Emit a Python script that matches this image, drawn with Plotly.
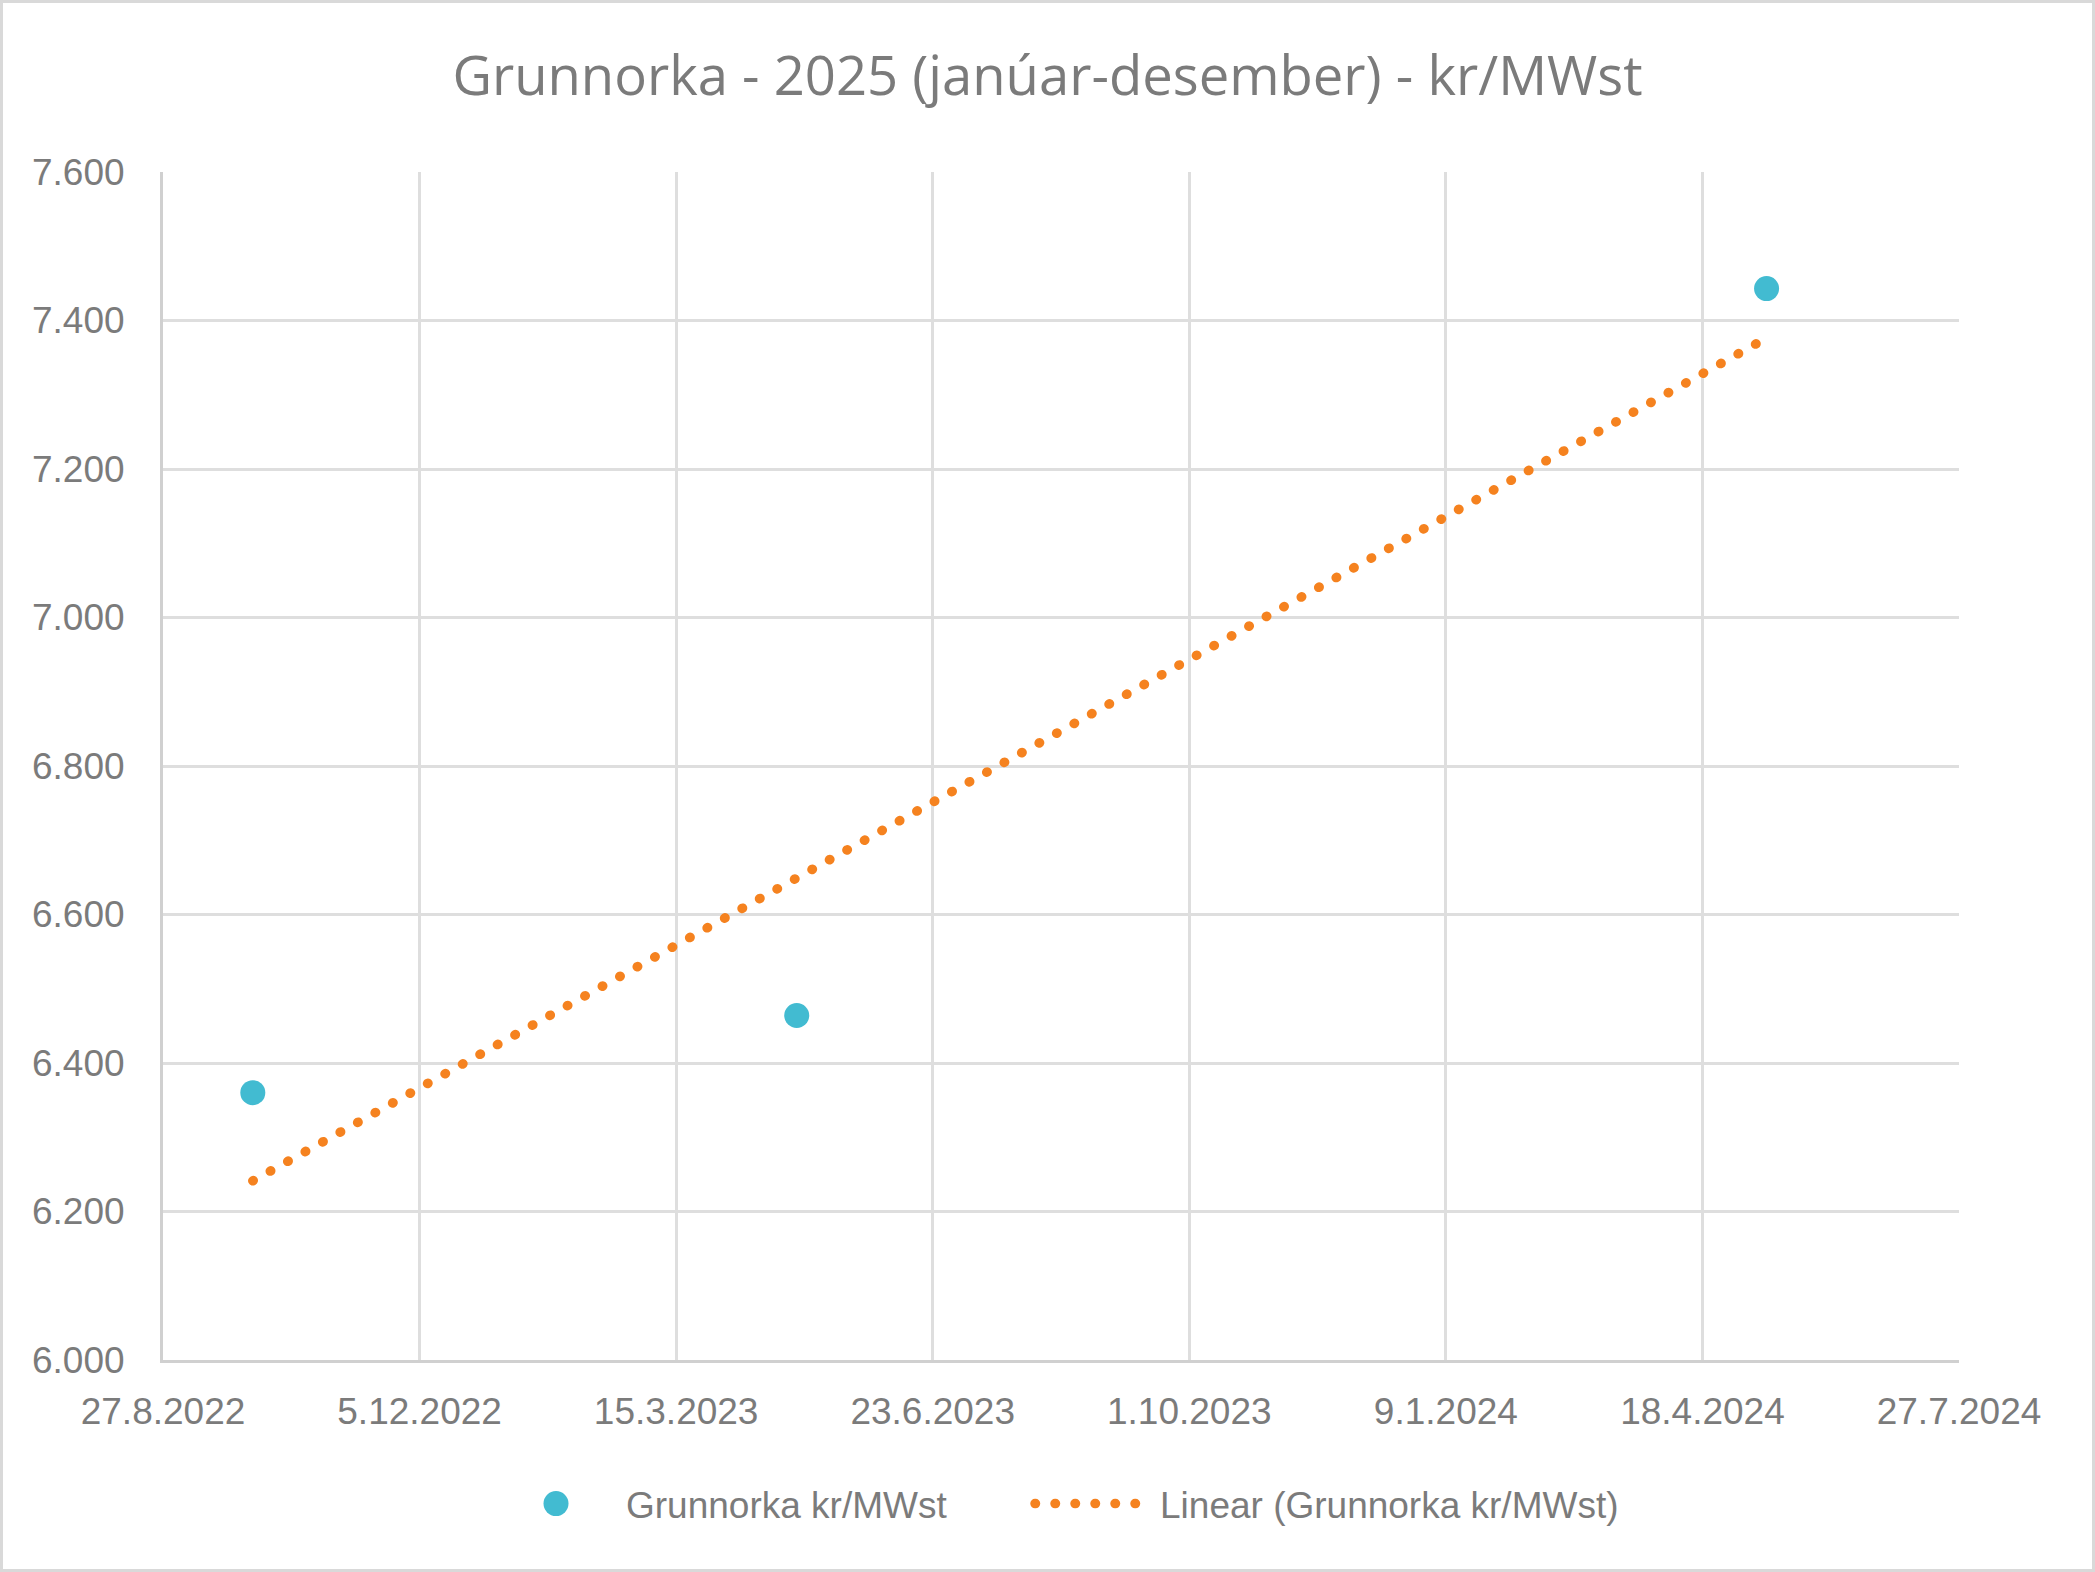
import numpy as np
import pandas as pd
import plotly.graph_objects as go

# ---- data ----
dates = ["2022-10-01", "2023-05-01", "2024-05-13"]
values = [6360, 6464, 7443]
series_name = "Grunnorka kr/MWst"
trend_name = "Linear (Grunnorka kr/MWst)"
title_text = "Grunnorka - 2025 (janúar-desember) - kr/MWst"
x_tick0 = "2022-08-27"
x_range = ["2022-08-27", "2024-07-27"]
y_range = [6000, 7600]

# ---- linear trend (least squares over day numbers) ----
d = pd.to_datetime(dates)
days = (d - d[0]).days.values.astype(float)
slope, intercept = np.polyfit(days, np.array(values, dtype=float), 1)
trend_x = [d[0], d[-1]]
trend_y = [intercept + slope * days[0], intercept + slope * days[-1]]

TEXT = "#7B7B7B"
GRID = "#DEDEDE"
AXIS = "#D0D0D0"
FONT = "Liberation Sans, Arial, sans-serif"

fig = go.Figure()
fig.add_trace(go.Scatter(
    x=d, y=values, mode="markers", name=series_name, legend="legend",
    marker=dict(size=25, color="#42BBD1", line=dict(width=0)),
))
fig.add_trace(go.Scatter(
    x=trend_x, y=trend_y, mode="lines", name=trend_name, legend="legend2",
    line=dict(color="#F5821F", width=9.5, dash="0.5px,19.5px"),
))

leg_common = dict(orientation="h", xanchor="left", xref="container",
                  y=1 - 1504 / 1572, yref="container", yanchor="middle",
                  font=dict(size=37, color=TEXT, family=FONT),
                  bgcolor="rgba(0,0,0,0)")

fig.update_layout(
    width=2095, height=1572,
    paper_bgcolor="white", plot_bgcolor="white",
    margin=dict(l=163, r=136, t=172, b=212),
    separators=",.",
    font=dict(family=FONT, size=37, color=TEXT),
    title=dict(text=title_text, x=0.5, xref="container", xanchor="center",
               y=1 - 76 / 1572, yref="container", yanchor="middle",
               font=dict(size=54.4, color=TEXT, family="Open Sans, sans-serif")),
    showlegend=True,
    legend=dict(x=486 / 2095, itemwidth=130, **leg_common),
    legend2=dict(x=1030 / 2095, itemwidth=120, **leg_common),
)
fig.update_xaxes(
    type="date", range=x_range, tick0=x_tick0, dtick=100 * 86400000,
    tickformat="%-d.%-m.%Y", showgrid=True, gridcolor=GRID, gridwidth=2.5,
    showline=True, linecolor=AXIS, linewidth=3, zeroline=False,
    ticks="outside", ticklen=17, tickcolor="rgba(0,0,0,0)",
    tickfont=dict(size=37, color=TEXT),
)
fig.update_yaxes(
    range=y_range, dtick=200, tickformat=",d", showgrid=True, gridcolor=GRID,
    gridwidth=2.5, showline=True, linecolor=AXIS, linewidth=3, zeroline=False,
    ticks="outside", ticklen=28, tickcolor="rgba(0,0,0,0)",
    tickfont=dict(size=37, color=TEXT),
)
# chart area border
fig.add_shape(type="rect", xref="paper", yref="paper",
              x0=(1.5 - 163) / 1796, x1=(2093.5 - 163) / 1796,
              y0=(1360 - 1570.5) / 1188, y1=(1360 - 1.5) / 1188,
              line=dict(color="#D9D9D9", width=3), fillcolor="rgba(0,0,0,0)",
              layer="below")

post = """
var s=document.createElement('style');
s.innerHTML='html,body{margin:0;padding:0;overflow:hidden;} .js-line{stroke-linecap:round !important;}';
document.head.appendChild(s);
var pts=document.querySelectorAll('.legendpoints path.scatterpts');
pts.forEach(function(p){p.setAttribute('d','M12.5,0A12.5,12.5 0 1,1 0,-12.5A12.5,12.5 0 0,1 12.5,0Z');});
"""
fig.write_html("out.html", post_script=post, config={"displayModeBar": False})
